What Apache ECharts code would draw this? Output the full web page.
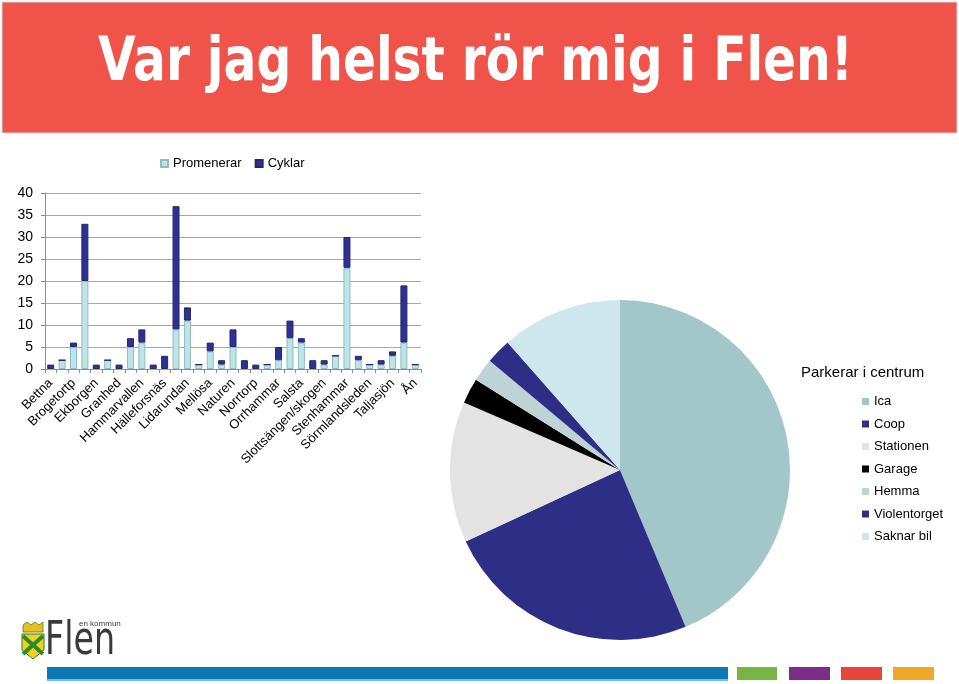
<!DOCTYPE html>
<html><head><meta charset="utf-8">
<script src="https://cdn.jsdelivr.net/npm/echarts@6/dist/echarts.min.js"></script>
<style>html,body{margin:0;padding:0;background:#fff}#c{width:959px;height:684px}</style>
</head><body><div id="c"></div>
<script>
const categories = ['Bettna','','Brogetortp','','Ekborgen','','Granhed','','Hammarvallen','','Hälleforsnäs','','Lidarundan','','Mellösa','','Naturen','','Norrtorp','','Orrhammar','','Salsta','','Slottsängen/skogen','','Stenhammar','','Sörmlandsleden','','Taljasjön','','Ån'];
const promenerar = [0,2,5,20,0,2,0,5,6,0,0,9,11,1,4,1,5,0,0,1,2,7,6,0,1,3,23,2,1,1,3,6,1];
const cyklar     = [1,0,1,13,1,0,1,2,3,1,3,28,3,0,2,1,4,2,1,0,3,4,1,2,1,0,7,1,0,1,1,13,0];
const yTicks = [0,5,10,15,20,25,30,35,40];
const pieNames = ['Ica','Coop','Stationen','Garage','Hemma','Violentorget','Saknar bil'];
const pieValues = [43.7,24.4,13.4,2.4,2.2,2.4,11.5];
const pieColors = ['#a3c6c9','#2e2e86','#e3e3e3','#000000','#bfd3d6','#2e2e86','#cde7ec'];
const titleText = 'Var jag helst rör mig i Flen!';

const FONT = 'Liberation Sans, Arial, sans-serif';
const chart = echarts.init(document.getElementById('c'), null, {renderer:'canvas'});

const cv = document.createElement('canvas').getContext('2d');
cv.font = 'bold 57px "DejaVu Sans"';
const tw = cv.measureText(titleText).width;
const sx = 755 / tw;
cv.font = '46px "DejaVu Sans Condensed"';
const fw = cv.measureText('Flen').width;
const fsx = 70 / fw;

chart.setOption({
  animation:false,
  textStyle:{fontFamily:FONT},
  title:{text:'Parkerar i centrum', left:796, top:360, textStyle:{fontFamily:FONT,fontSize:15,fontWeight:'normal',color:'#000'}},
  legend:[{
    data:['Promenerar','Cyklar'], left:155, top:152, itemWidth:7, itemHeight:7, itemGap:13,
    icon:'rect', textStyle:{fontFamily:FONT,fontSize:13,color:'#000'}
  },{
    data:pieNames, orient:'vertical', left:857, top:390, itemWidth:7, itemHeight:7, itemGap:9.5,
    icon:'rect', textStyle:{fontFamily:FONT,fontSize:13,color:'#000'}
  }],
  grid:{left:45, right:538, top:193, bottom:684-369, containLabel:false},
  xAxis:{
    type:'category', data:categories,
    axisLine:{lineStyle:{color:'#8c8c8c'}},
    axisTick:{show:true, alignWithLabel:false, length:4, lineStyle:{color:'#8c8c8c'}},
    axisLabel:{interval:0, rotate:45, fontFamily:FONT, fontSize:13, color:'#000', margin:12}
  },
  yAxis:{
    type:'value', min:0, max:40, interval:5,
    axisLine:{show:true, lineStyle:{color:'#8c8c8c'}},
    axisTick:{show:true, length:4, lineStyle:{color:'#8c8c8c'}},
    splitLine:{lineStyle:{color:'#a8a8a8'}},
    axisLabel:{fontFamily:FONT, fontSize:14, color:'#000', margin:12,
      formatter:v=>yTicks.indexOf(v)>=0?String(v):''}
  },
  series:[
    {name:'Promenerar', type:'bar', stack:'a', data:promenerar, barWidth:7,
      itemStyle:{color:'#bfe4e6', borderColor:'#8fbcbf', borderWidth:1}},
    {name:'Cyklar', type:'bar', stack:'a', data:cyklar, barWidth:7,
      itemStyle:{color:'#2e3192', borderColor:'#23266e', borderWidth:1}},
    {name:'Parkerar', type:'pie', center:[620,470], radius:170, startAngle:90, clockwise:true,
      label:{show:false}, labelLine:{show:false}, emphasis:{disabled:true},
      data:pieNames.map((n,i)=>({name:n, value:pieValues[i], itemStyle:{color:pieColors[i]}}))}
  ],
  graphic:[
    {type:'rect', shape:{x:2,y:2,width:955,height:131}, style:{fill:'#ef5349', stroke:'#d9d9d9', lineWidth:1}, z:-1},
    {type:'text', x:98, y:64, scaleX:sx, scaleY:1.05, style:{text:titleText, font:'bold 57px "DejaVu Sans"', fill:'#fff', verticalAlign:'middle', textAlign:'left'}},
    {type:'rect', shape:{x:47,y:667,width:681,height:13}, style:{fill:'#0a79b4'}},
    {type:'rect', shape:{x:47,y:679,width:681,height:2}, style:{fill:'#6fc0e0'}},
    {type:'rect', shape:{x:737,y:667,width:40,height:13}, style:{fill:'#79b543'}},
    {type:'rect', shape:{x:789,y:667,width:41,height:13}, style:{fill:'#7a2e8a'}},
    {type:'rect', shape:{x:841,y:667,width:41,height:13}, style:{fill:'#e5453a'}},
    {type:'rect', shape:{x:893,y:667,width:41,height:13}, style:{fill:'#f0a72a'}},
    {type:'polygon', shape:{points:[[23,625],[27,622],[31,625],[35,622],[39,625],[43,622],[43,632],[23,632]]}, style:{fill:'#e6c21a', stroke:'#6b6b2a', lineWidth:0.8}},
    {type:'polygon', shape:{points:[[22,634],[44,634],[44,650],[33,659],[22,650]]}, style:{fill:'#f2d21b', stroke:'#2d7a2d', lineWidth:1}},
    {type:'polyline', shape:{points:[[23,636],[43,654]]}, style:{stroke:'#2d8a33', lineWidth:4}},
    {type:'polyline', shape:{points:[[43,636],[23,654]]}, style:{stroke:'#2d8a33', lineWidth:4}},
    {type:'text', x:45, y:642, scaleX:fsx, style:{text:'Flen', font:'46px "DejaVu Sans Condensed"', fill:'#3a3a3a', verticalAlign:'middle'}},
    {type:'text', x:79, y:624, style:{text:'en kommun', font:'8px "Liberation Sans"', fill:'#3a3a3a', verticalAlign:'middle'}}
  ]
});
</script></body></html>
